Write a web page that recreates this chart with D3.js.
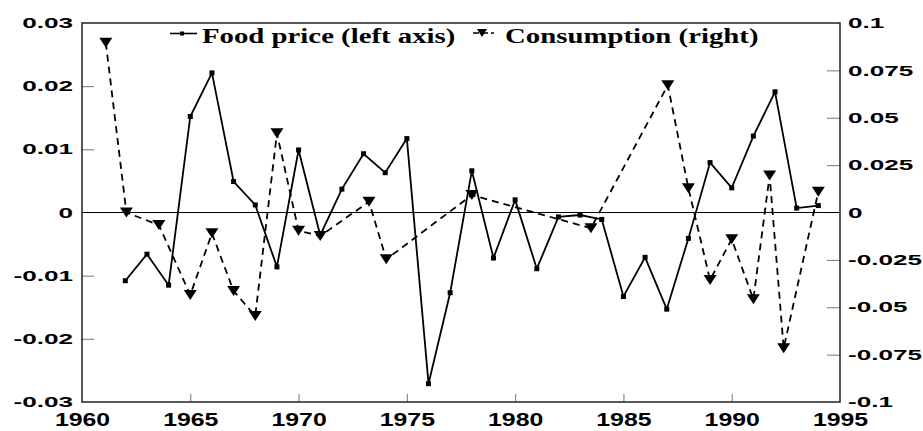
<!DOCTYPE html>
<html>
<head>
<meta charset="utf-8">
<script src="https://cdn.jsdelivr.net/npm/d3@7"></script>
<style>
  body { margin: 0; background: #fff; }
  svg { display: block; }
</style>
</head>
<body>
<div id="chart"></div>
<script>
// food price, one point per year (left axis)
const foodYears = d3.range(1962, 1995);
const foodPrice = [-0.0108, -0.0066, -0.0115, 0.0152, 0.0221, 0.0049, 0.0012, -0.0086, 0.0099, -0.0036,
  0.0037, 0.0093, 0.0063, 0.0117, -0.0271, -0.0127, 0.0066, -0.0072, 0.0020, -0.0089,
  -0.0007, -0.0004, -0.0011, -0.0133, -0.0071, -0.0153, -0.0041, 0.0079, 0.0039, 0.0121,
  0.0191, 0.0007, 0.0011];

// consumption (right axis) - x positions
const consYears = [1961.1, 1962.05, 1963.55, 1965, 1966, 1967, 1968, 1969, 1970, 1971, 1973.25,
  1974.05, 1978, 1983.5, 1987.05, 1988, 1989, 1990, 1991, 1991.75, 1992.4, 1994];
const consumption = [0.0896, 0.0000, -0.0066, -0.0435, -0.0110, -0.0414, -0.0546, 0.0418, -0.0096,
  -0.0124, 0.0057, -0.0247, 0.0092, -0.0083, 0.0672, 0.0128, -0.0356, -0.0141, -0.0458,
  0.0195, -0.0716, 0.0110];

const xTicks = [1960, 1965, 1970, 1975, 1980, 1985, 1990, 1995];
const leftTicks = [-0.03, -0.02, -0.01, 0, 0.01, 0.02, 0.03];
const leftTickLabels = ['-0.03', '-0.02', '-0.01', '0', '0.01', '0.02', '0.03'];
const rightTicks = [-0.1, -0.075, -0.05, -0.025, 0, 0.025, 0.05, 0.075, 0.1];
const rightTickLabels = ['-0.1', '-0.075', '-0.05', '-0.025', '0', '0.025', '0.05', '0.075', '0.1'];
const legendLabels = ['Food price (left axis)', 'Consumption (right)'];

const width = 923, height = 431;
const margin = {top: 23, right: 83, bottom: 29, left: 82};
const innerW = width - margin.left - margin.right;
const innerH = height - margin.top - margin.bottom;

const svg = d3.select('#chart').append('svg')
  .attr('width', width)
  .attr('height', height);

svg.append('rect').attr('width', width).attr('height', height).attr('fill', '#fff');

const g = svg.append('g').attr('transform', `translate(${margin.left},${margin.top})`);

const x = d3.scaleLinear().domain([1960, 1995]).range([0, innerW]);
const yL = d3.scaleLinear().domain([-0.03, 0.03]).range([innerH, 0]);
const yR = d3.scaleLinear().domain([-0.1, 0.1]).range([innerH, 0]);

const sansFont = '"Liberation Sans", Arial, sans-serif';
const ySx = 1.8, xSx = 1.42;

// axes, ticks point inward
const leftAxis = d3.axisLeft(yL).tickValues(leftTicks)
  .tickFormat((d, i) => leftTickLabels[i]).tickSizeInner(-12).tickSizeOuter(0).tickPadding(9);
const rightAxis = d3.axisRight(yR).tickValues(rightTicks)
  .tickFormat((d, i) => rightTickLabels[i]).tickSizeInner(-13).tickSizeOuter(0).tickPadding(8);
const bottomAxis = d3.axisBottom(x).tickValues(xTicks)
  .tickFormat(d3.format('d')).tickSizeInner(-8).tickSizeOuter(0).tickPadding(12);

function styleAxis(sel) {
  sel.select('.domain').remove();
  sel.selectAll('.tick line').attr('stroke', '#777').attr('stroke-width', 1);
  sel.selectAll('text')
    .attr('fill', '#000')
    .style('font-family', sansFont)
    .style('font-weight', 'bold');
}

const gl = g.append('g').call(leftAxis).call(styleAxis);
gl.selectAll('text').style('font-size', '14.5px')
  .attr('x', -9 / ySx).attr('transform', `scale(${ySx},1)`);

const gr = g.append('g').attr('transform', `translate(${innerW},0)`).call(rightAxis).call(styleAxis);
gr.selectAll('text').style('font-size', '14.5px')
  .attr('x', 8 / ySx).attr('transform', `scale(${ySx},1)`);

const gb = g.append('g').attr('transform', `translate(0,${innerH})`).call(bottomAxis).call(styleAxis);
gb.selectAll('text').style('font-size', '17.5px')
  .attr('transform', `scale(${xSx},1)`);
gb.selectAll('.tick').filter(d => d === 1960 || d === 1995).select('line').remove();
gl.selectAll('.tick').filter(d => Math.abs(d) === 0.03 || d === 0).select('line').remove();
gr.selectAll('.tick').filter(d => Math.abs(d) === 0.1 || d === 0).select('line').remove();

// frame
g.append('rect')
  .attr('width', innerW).attr('height', innerH)
  .attr('fill', 'none').attr('stroke', '#222').attr('stroke-width', 1.5);

// zero line
g.append('line')
  .attr('x1', 0).attr('x2', innerW)
  .attr('y1', yL(0)).attr('y2', yL(0))
  .attr('stroke', '#000').attr('stroke-width', 1.2);

const foodData = foodYears.map((yr, i) => ({x: yr, y: foodPrice[i]}));
const consData = consYears.map((yr, i) => ({x: yr, y: consumption[i]}));

// consumption dashed line + triangles
g.append('path')
  .datum(consData)
  .attr('fill', 'none')
  .attr('stroke', '#000')
  .attr('stroke-width', 1.8)
  .attr('stroke-dasharray', '7,5')
  .attr('d', d3.line().x(d => x(d.x)).y(d => yR(d.y)));

const tri = 'M-6.5,-5L6.5,-5L0,5Z';
g.selectAll('.tri').data(consData).enter().append('path')
  .attr('class', 'tri')
  .attr('d', tri)
  .attr('transform', d => `translate(${x(d.x)},${yR(d.y)})`)
  .attr('fill', '#000');

// food price solid line + squares
g.append('path')
  .datum(foodData)
  .attr('fill', 'none')
  .attr('stroke', '#000')
  .attr('stroke-width', 1.8)
  .attr('d', d3.line().x(d => x(d.x)).y(d => yL(d.y)));

g.selectAll('.sq').data(foodData).enter().append('rect')
  .attr('class', 'sq')
  .attr('x', d => x(d.x) - 2.5).attr('y', d => yL(d.y) - 2.5)
  .attr('width', 5).attr('height', 5)
  .attr('fill', '#000');

// legend
const serifFont = '"Liberation Serif", "Times New Roman", serif';
const legendSx = 1.44;
const lg = svg.append('g');

lg.append('line').attr('x1', 170).attr('x2', 197).attr('y1', 33.5).attr('y2', 33.5)
  .attr('stroke', '#000').attr('stroke-width', 1.6);
lg.append('rect').attr('x', 180).attr('y', 31.5).attr('width', 4).attr('height', 4).attr('fill', '#000');
lg.append('text')
  .attr('transform', `translate(202,42.7) scale(${legendSx},1)`)
  .style('font-family', serifFont).style('font-weight', 'bold').style('font-size', '20px')
  .text(legendLabels[0]);

lg.append('line').attr('x1', 473).attr('x2', 494).attr('y1', 33).attr('y2', 33)
  .attr('stroke', '#000').attr('stroke-width', 1.6).attr('stroke-dasharray', '6,3');
lg.append('path').attr('d', 'M-5,-4L5,-4L0,4Z').attr('transform', 'translate(482,33)').attr('fill', '#000');
lg.append('text')
  .attr('transform', `translate(505,42.7) scale(${legendSx},1)`)
  .style('font-family', serifFont).style('font-weight', 'bold').style('font-size', '20px')
  .text(legendLabels[1]);
</script>
</body>
</html>
